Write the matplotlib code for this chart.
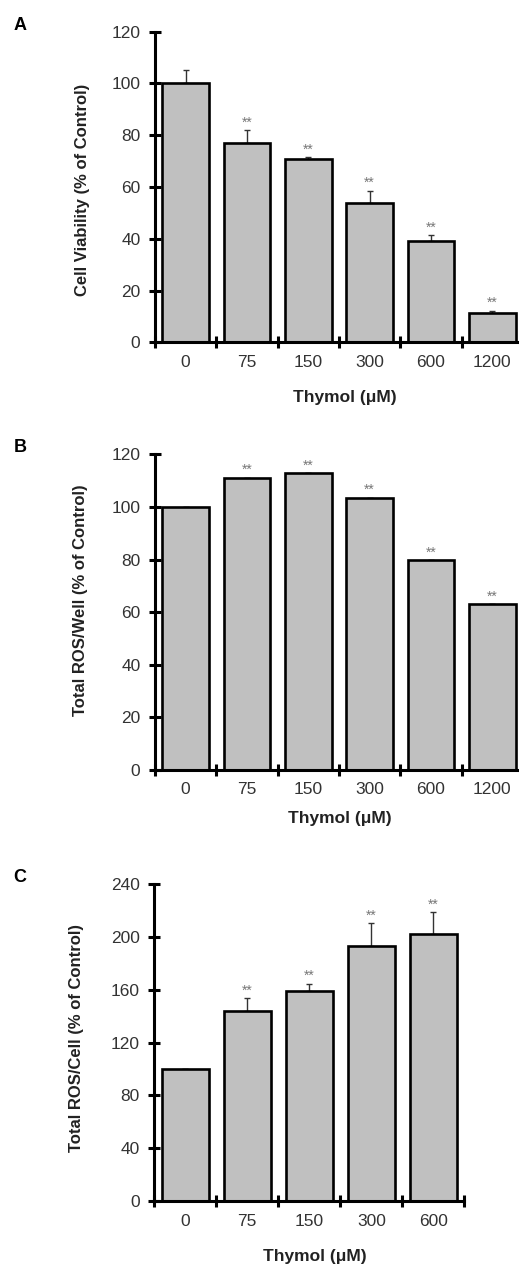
import numpy as np
import matplotlib
matplotlib.use("Agg")
import matplotlib.pyplot as plt

plt.rcParams['font.family'] = ['Liberation Sans', 'DejaVu Sans']

# panel A - cell viability
doses_a = ["0", "75", "150", "300", "600", "1200"]
viab = [100, 77.1, 70.8, 53.7, 39.3, 11.2]
viab_err = [5.2, 4.8, 0.7, 4.9, 2.0, 1.0]
viab_sig = ["", "**", "**", "**", "**", "**"]

# panel B - total ROS per well
doses_b = ["0", "75", "150", "300", "600", "1200"]
ros_well = [100, 111.1, 112.9, 103.5, 79.7, 63.0]
ros_well_err = [0, 0, 0, 0, 0, 0]
ros_well_sig = ["", "**", "**", "**", "**", "**"]

# panel C - total ROS per cell
doses_c = ["0", "75", "150", "300", "600"]
ros_cell = [100, 144.0, 159.2, 193.3, 202.1]
ros_cell_err = [0, 9.6, 5.3, 17.2, 16.7]
ros_cell_sig = ["", "**", "**", "**", "**"]

fig = plt.figure(figsize=(5.19, 12.68), dpi=100)


def panel(rect, doses, vals, errs, sigs, ymax, ystep, ylabel, letter,
          ylab_x, ylab_y, xlab_x, xlab_y, letter_y):
    ax = fig.add_axes(rect)
    x = np.arange(len(doses))
    ax.bar(x, vals, width=0.76, color="#c0c0c0", edgecolor="black", linewidth=1.9, zorder=2)
    lo = np.zeros(len(errs))
    ax.errorbar(x, vals, yerr=[lo, errs], fmt="none", ecolor="#333333",
                elinewidth=1.0, capsize=2.5, capthick=1.0, zorder=1)
    # significance stars
    for xi, v, e, s in zip(x, vals, errs, sigs):
        if s:
            ax.annotate(s, (xi, v + e), xytext=(0, 0.5), textcoords="offset points",
                        ha="center", va="bottom", fontsize=10, color="#777777")
    ax.set_xlim(-0.5, len(doses) - 0.5)
    ax.set_ylim(0, ymax)
    ax.set_yticks(np.arange(0, ymax + 1, ystep))
    # ticks between categories, labels at the bar centres
    ax.set_xticks(np.arange(len(doses) + 1) - 0.5)
    ax.set_xticklabels([])
    ax.set_xticks(x, minor=True)
    ax.set_xticklabels(doses, minor=True)
    ax.tick_params(axis="x", which="minor", length=0, pad=9, labelsize=12.5, colors="#333333")
    ax.tick_params(axis="x", which="major", direction="inout", length=9, width=2.2)
    ax.tick_params(axis="y", direction="inout", length=9, width=2.2, labelsize=12.5,
                   labelcolor="#333333", pad=6)
    for sp in ["top", "right"]:
        ax.spines[sp].set_visible(False)
    for sp in ["left", "bottom"]:
        ax.spines[sp].set_linewidth(2.2)
    ax.spines["bottom"].set_zorder(3)
    fig.text(ylab_x / 519, 1 - ylab_y / 1268, ylabel,
             rotation=90, ha="center", va="center", fontsize=12, fontweight="bold", color="#222222")
    fig.text(xlab_x / 519, 1 - xlab_y / 1268, "Thymol (\u03bcM)", ha="center", va="center",
             fontsize=12.5, fontweight="bold", color="#222222")
    fig.text(20 / 519, 1 - letter_y / 1268, letter, ha="center", va="center",
             fontsize=13, fontweight="bold")
    return ax


panel([155 / 519, 1 - 342.3 / 1268, 368 / 519, 310.6 / 1268], doses_a, viab, viab_err, viab_sig,
      120, 20, "Cell Viability (% of Control)", "A", 83, 190, 345, 397, 26)
panel([155 / 519, 1 - 770 / 1268, 368 / 519, 315.7 / 1268], doses_b, ros_well, ros_well_err, ros_well_sig,
      120, 20, "Total ROS/Well (% of Control)", "B", 80, 600, 340, 819, 447)
panel([154.3 / 519, 1 - 1201 / 1268, 310 / 519, 316.7 / 1268], doses_c, ros_cell, ros_cell_err, ros_cell_sig,
      240, 40, "Total ROS/Cell (% of Control)", "C", 76, 1038, 315, 1257, 877)

fig.savefig("out.png", dpi=100)
